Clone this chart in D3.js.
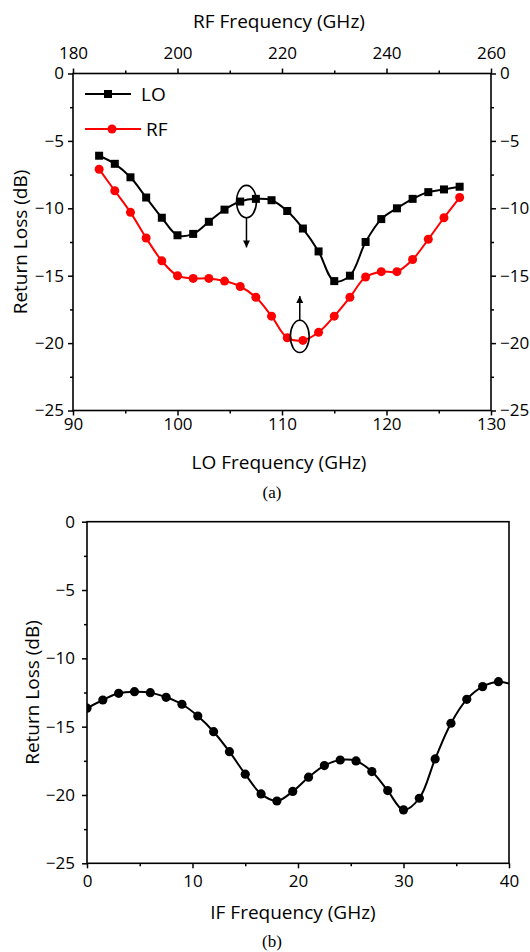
<!DOCTYPE html>
<html>
<head>
<meta charset="utf-8">
<script src="https://cdn.jsdelivr.net/npm/d3@7"></script>
<style>
  html, body { margin: 0; padding: 0; background: #fff; }
  svg { display: block; }
  text { font-family: "Open Sans", sans-serif; fill: #000; }
</style>
</head>
<body>
<div id="chart"></div>
<script>
// ---- data ----
const loFreq = [92.5, 94, 95.5, 97, 98.5, 100, 101.5, 103, 104.5, 106, 107.5, 109,
                110.5, 112, 113.5, 115, 116.5, 118, 119.5, 121, 122.5, 124, 125.5, 127];
const loReturnLoss = [-6.1, -6.7, -7.7, -9.2, -10.7, -12.0, -11.9, -11.0, -10.1, -9.5, -9.3, -9.4,
                      -10.2, -11.5, -13.2, -15.4, -15.0, -12.5, -10.8, -10.0, -9.3, -8.8, -8.6, -8.4];
const rfReturnLoss = [-7.1, -8.7, -10.3, -12.2, -13.9, -15.0, -15.2, -15.2, -15.4, -15.8, -16.6, -18.0,
                      -19.6, -19.8, -19.2, -18.0, -16.6, -15.1, -14.7, -14.7, -13.8, -12.3, -10.7, -9.2];

const ifFreq = [0, 1.5, 3, 4.5, 6, 7.5, 9, 10.5, 12, 13.5, 15, 16.5, 18, 19.5, 21, 22.5,
                24, 25.5, 27, 28.5, 30, 31.5, 33, 34.5, 36, 37.5, 39, 40];
const ifReturnLoss = [-13.65, -13.05, -12.56, -12.44, -12.51, -12.85, -13.36, -14.22, -15.37, -16.83,
                      -18.48, -19.92, -20.44, -19.74, -18.70, -17.85, -17.44, -17.51, -18.29, -19.68,
                      -21.09, -20.24, -17.36, -14.75, -13.0, -12.07, -11.71, -11.85];

const loTicks = [90, 100, 110, 120, 130];
const rfTicks = [180, 200, 220, 240, 260];
const ifTicks = [0, 10, 20, 30, 40];
const rlTicks = [0, -5, -10, -15, -20, -25];

// annotation ellipses (data units) with arrow tips
const notes = [
  { x: 106.6, y: -9.5, rx: 0.95, ry: 1.2, tip: -12.9 },
  { x: 111.7, y: -19.5, rx: 0.9, ry: 1.2, tip: -16.5 }
];

const width = 530, height = 952;
const svg = d3.select("#chart").append("svg")
  .attr("width", width).attr("height", height);

const defs = svg.append("defs");
defs.append("marker")
  .attr("id", "arrow")
  .attr("viewBox", "0 0 10 10")
  .attr("refX", 10).attr("refY", 5)
  .attr("markerWidth", 9).attr("markerHeight", 7)
  .attr("markerUnits", "userSpaceOnUse")
  .attr("orient", "auto")
  .append("path").attr("d", "M0,0 L10,5 L0,10 z").attr("fill", "#000");

const tickFont = "17px";
const titleFont = "19px";

function styleAxis(g) {
  g.select(".domain").remove();
  g.selectAll("line").attr("stroke", "#000").attr("stroke-width", 1.5);
  g.selectAll("text").style("font-size", tickFont).attr("fill", "#000");
}

// ================= (a) =================
const A = { left: 73, right: 491, top: 73.5, bottom: 410.5 };
const xLo = d3.scaleLinear().domain([90, 130]).range([A.left, A.right]);
const xRf = d3.scaleLinear().domain([180, 260]).range([A.left, A.right]);
const yA = d3.scaleLinear().domain([-25, 0]).range([A.bottom, A.top]);

const minorLo = d3.range(95, 130, 10);
const minorRf = d3.range(190, 260, 20);
const minorRl = d3.range(-2.5, -25, -5);

// major / minor ticks
svg.append("g").attr("transform", `translate(0,${A.bottom})`)
  .call(d3.axisBottom(xLo).tickValues(loTicks).tickSize(5).tickPadding(2)).call(styleAxis);
svg.append("g").attr("transform", `translate(0,${A.bottom})`)
  .call(d3.axisBottom(xLo).tickValues(minorLo).tickSize(3).tickFormat("")).call(styleAxis);
svg.append("g").attr("transform", `translate(0,${A.top})`)
  .call(d3.axisTop(xRf).tickValues(rfTicks).tickSize(5).tickPadding(10)).call(styleAxis);
svg.append("g").attr("transform", `translate(0,${A.top})`)
  .call(d3.axisTop(xRf).tickValues(minorRf).tickSize(3).tickFormat("")).call(styleAxis);
svg.append("g").attr("transform", `translate(${A.left},0)`)
  .call(d3.axisLeft(yA).tickValues(rlTicks).tickSize(5).tickPadding(4)).call(styleAxis);
svg.append("g").attr("transform", `translate(${A.left},0)`)
  .call(d3.axisLeft(yA).tickValues(minorRl).tickSize(3).tickFormat("")).call(styleAxis);
svg.append("g").attr("transform", `translate(${A.right},0)`)
  .call(d3.axisRight(yA).tickValues(rlTicks).tickSize(5).tickPadding(4)).call(styleAxis);
svg.append("g").attr("transform", `translate(${A.right},0)`)
  .call(d3.axisRight(yA).tickValues(minorRl).tickSize(3).tickFormat("")).call(styleAxis);

svg.append("rect")
  .attr("x", A.left).attr("y", A.top)
  .attr("width", A.right - A.left).attr("height", A.bottom - A.top)
  .attr("fill", "none").attr("stroke", "#000").attr("stroke-width", 1.6);

// titles
svg.append("text").attr("x", (A.left + A.right) / 2 - 3).attr("y", 28)
  .attr("text-anchor", "middle").style("font-size", titleFont).text("RF Frequency (GHz)");
svg.append("text").attr("x", (A.left + A.right) / 2 - 3).attr("y", 469)
  .attr("text-anchor", "middle").style("font-size", titleFont).text("LO Frequency (GHz)");
svg.append("text")
  .attr("transform", `translate(27,${(A.top + A.bottom) / 2}) rotate(-90)`)
  .attr("text-anchor", "middle").style("font-size", titleFont).text("Return Loss (dB)");
svg.append("text").attr("x", 272).attr("y", 498)
  .attr("text-anchor", "middle")
  .style("font-family", "'Liberation Serif', 'DejaVu Serif', serif")
  .style("font-size", "17px").text("(a)");

const loData = loFreq.map((f, i) => ({ f, lo: loReturnLoss[i], rf: rfReturnLoss[i] }));

const lineLo = d3.line().x(d => xLo(d.f)).y(d => yA(d.lo)).curve(d3.curveCatmullRom.alpha(0.5));
const lineRf = d3.line().x(d => xLo(d.f)).y(d => yA(d.rf)).curve(d3.curveCatmullRom.alpha(0.5));

svg.append("path").datum(loData).attr("d", lineRf)
  .attr("fill", "none").attr("stroke", "#ff0000").attr("stroke-width", 2);
svg.selectAll(".rfDot").data(loData).enter().append("circle")
  .attr("class", "rfDot")
  .attr("cx", d => xLo(d.f)).attr("cy", d => yA(d.rf)).attr("r", 4.5)
  .attr("fill", "#ff0000");

svg.append("path").datum(loData).attr("d", lineLo)
  .attr("fill", "none").attr("stroke", "#000").attr("stroke-width", 2);
svg.selectAll(".loDot").data(loData).enter().append("rect")
  .attr("class", "loDot")
  .attr("x", d => xLo(d.f) - 4).attr("y", d => yA(d.lo) - 4)
  .attr("width", 8).attr("height", 8).attr("fill", "#000");

// annotations
notes.forEach(n => {
  const cx = xLo(n.x), cy = yA(n.y);
  const rx = xLo(n.x + n.rx) - cx, ry = yA(n.y - n.ry) - cy;
  svg.append("ellipse").attr("cx", cx).attr("cy", cy).attr("rx", rx).attr("ry", ry)
    .attr("fill", "none").attr("stroke", "#000").attr("stroke-width", 1.6);
  const y1 = n.tip < n.y ? cy + ry : cy - ry;
  svg.append("line").attr("x1", cx).attr("x2", cx).attr("y1", y1).attr("y2", yA(n.tip))
    .attr("stroke", "#000").attr("stroke-width", 1.5).attr("marker-end", "url(#arrow)");
});

// legend
const legend = svg.append("g");
legend.append("line").attr("x1", 85).attr("x2", 131).attr("y1", 94).attr("y2", 94)
  .attr("stroke", "#000").attr("stroke-width", 2);
legend.append("rect").attr("x", 104).attr("y", 90).attr("width", 8).attr("height", 8).attr("fill", "#000");
legend.append("text").attr("x", 141).attr("y", 101).style("font-size", "19px").text("LO");
legend.append("line").attr("x1", 85).attr("x2", 141).attr("y1", 129).attr("y2", 129)
  .attr("stroke", "#ff0000").attr("stroke-width", 2);
legend.append("circle").attr("cx", 112).attr("cy", 129).attr("r", 4.5).attr("fill", "#ff0000");
legend.append("text").attr("x", 146).attr("y", 136).style("font-size", "19px").text("RF");

// ================= (b) =================
const B = { left: 87, right: 509, top: 521.7, bottom: 863.3 };
const xIf = d3.scaleLinear().domain([0, 40]).range([B.left, B.right]);
const yB = d3.scaleLinear().domain([-25, 0]).range([B.bottom, B.top]);
const minorIf = d3.range(5, 40, 10);

svg.append("g").attr("transform", `translate(0,${B.bottom})`)
  .call(d3.axisBottom(xIf).tickValues(ifTicks).tickSize(5).tickPadding(7)).call(styleAxis);
svg.append("g").attr("transform", `translate(0,${B.bottom})`)
  .call(d3.axisBottom(xIf).tickValues(minorIf).tickSize(3).tickFormat("")).call(styleAxis);
svg.append("g").attr("transform", `translate(${B.left},0)`)
  .call(d3.axisLeft(yB).tickValues(rlTicks).tickSize(5).tickPadding(7)).call(styleAxis);
svg.append("g").attr("transform", `translate(${B.left},0)`)
  .call(d3.axisLeft(yB).tickValues(minorRl).tickSize(3).tickFormat("")).call(styleAxis);

defs.append("clipPath").attr("id", "clipB").append("rect")
  .attr("x", B.left).attr("y", B.top).attr("width", B.right - B.left).attr("height", B.bottom - B.top);

const ifData = ifFreq.map((f, i) => ({ f, v: ifReturnLoss[i] }));
const lineIf = d3.line().x(d => xIf(d.f)).y(d => yB(d.v)).curve(d3.curveCatmullRom.alpha(0.5));
const plotB = svg.append("g").attr("clip-path", "url(#clipB)");
plotB.append("path").datum(ifData).attr("d", lineIf)
  .attr("fill", "none").attr("stroke", "#000").attr("stroke-width", 2);
plotB.selectAll(".ifDot").data(ifData.filter(d => d.f < 40)).enter().append("circle")
  .attr("class", "ifDot")
  .attr("cx", d => xIf(d.f)).attr("cy", d => yB(d.v)).attr("r", 4.6).attr("fill", "#000");

svg.append("rect")
  .attr("x", B.left).attr("y", B.top)
  .attr("width", B.right - B.left).attr("height", B.bottom - B.top)
  .attr("fill", "none").attr("stroke", "#000").attr("stroke-width", 1.6);

svg.append("text").attr("x", (B.left + B.right) / 2 - 5).attr("y", 919)
  .attr("text-anchor", "middle").style("font-size", titleFont).text("IF Frequency (GHz)");
svg.append("text")
  .attr("transform", `translate(39,${(B.top + B.bottom) / 2}) rotate(-90)`)
  .attr("text-anchor", "middle").style("font-size", titleFont).text("Return Loss (dB)");
svg.append("text").attr("x", 272).attr("y", 947)
  .attr("text-anchor", "middle")
  .style("font-family", "'Liberation Serif', 'DejaVu Serif', serif")
  .style("font-size", "17px").text("(b)");
</script>
</body>
</html>
